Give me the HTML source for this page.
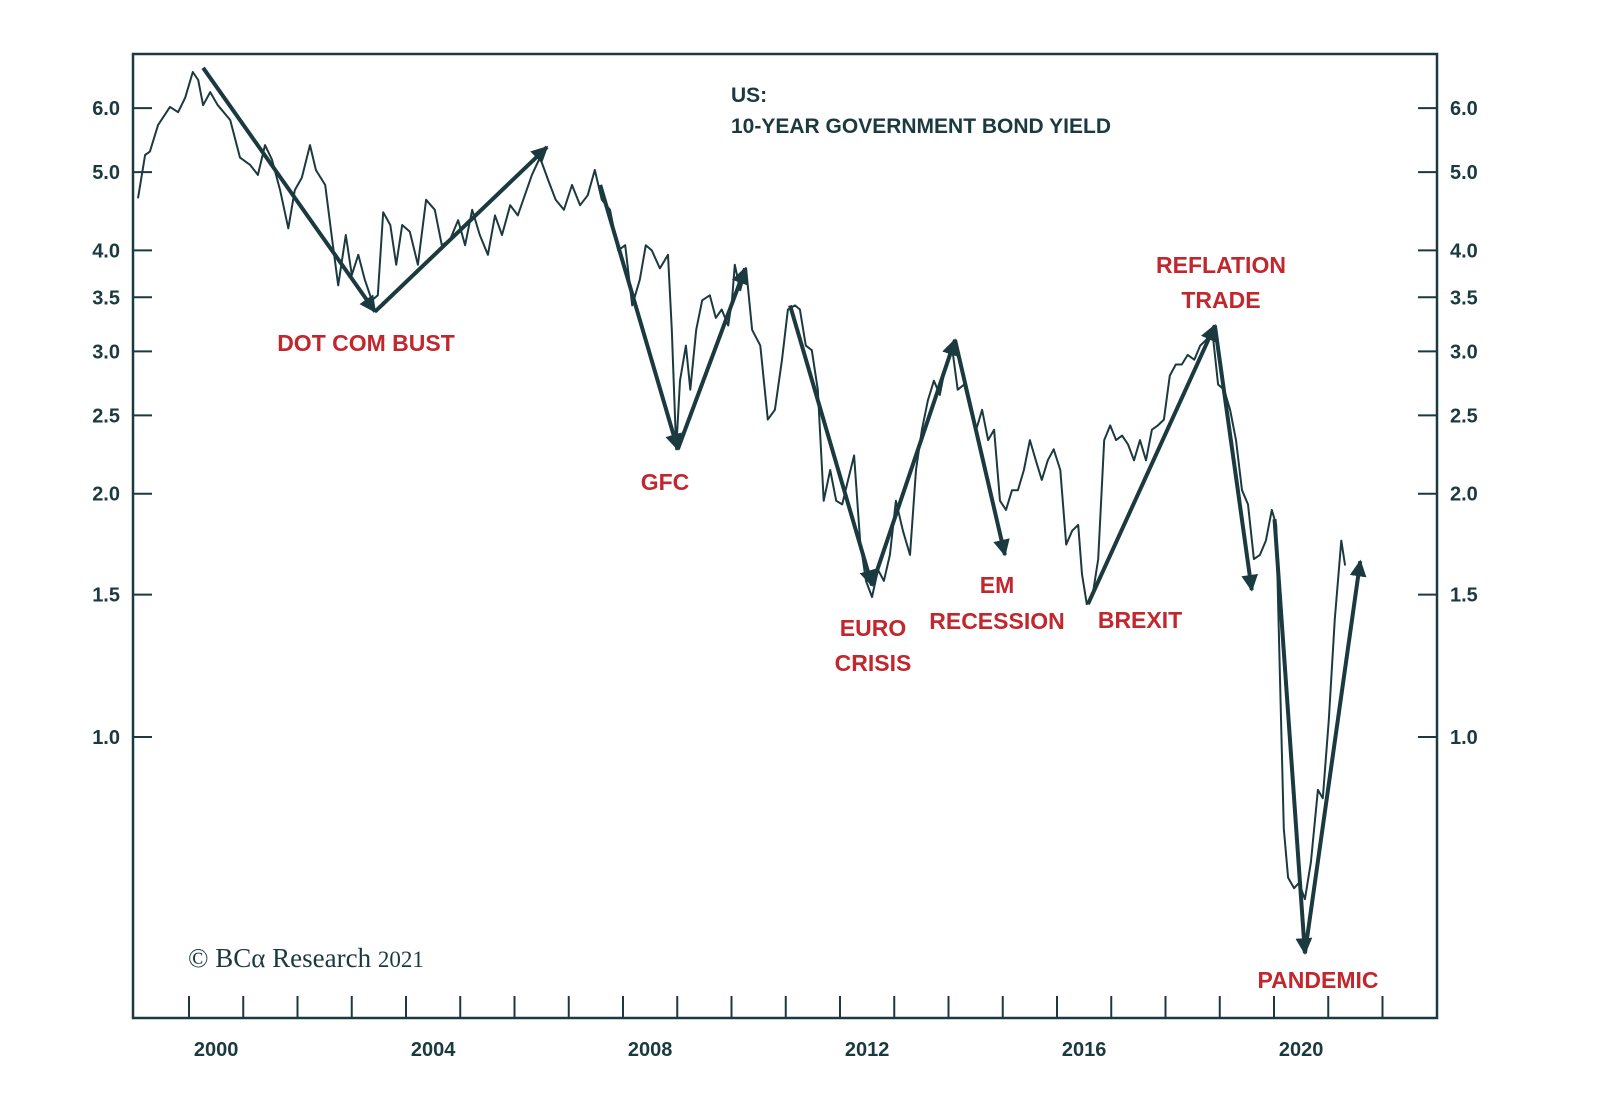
<!DOCTYPE html>
<html><head><meta charset="utf-8">
<style>
html,body{margin:0;padding:0;background:#fff;}
svg{display:block;}
text{font-family:"Liberation Sans",sans-serif;}
</style></head>
<body>
<svg id="chart" width="1600" height="1105" viewBox="0 0 1600 1105">
<defs>
<marker id="ah" viewBox="0 0 10 10" refX="9" refY="5" markerWidth="4.2" markerHeight="4.2" orient="auto" markerUnits="strokeWidth">
<path d="M0,0 L10,5 L0,10 z" fill="#1b3a3f"/>
</marker>
</defs>
<rect x="133" y="54" width="1304" height="964" fill="none" stroke="#1b3a3f" stroke-width="2.5"/>
<g id="axes"></g>
<g id="series"></g>
<g id="arrows"></g>
<text x="731" y="102" font-size="21" font-weight="bold" fill="#1b3a3f">US:</text>
<text x="731" y="133" font-size="21" font-weight="bold" fill="#1b3a3f">10-YEAR GOVERNMENT BOND YIELD</text>
<g font-size="23" font-weight="bold" fill="#c1272d" text-anchor="middle">
<text x="366" y="351">DOT COM BUST</text>
<text x="665" y="490">GFC</text>
<text x="873" y="636">EURO</text>
<text x="873" y="671">CRISIS</text>
<text x="997" y="593">EM</text>
<text x="997" y="629">RECESSION</text>
<text x="1140" y="628">BREXIT</text>
<text x="1221" y="273">REFLATION</text>
<text x="1221" y="308">TRADE</text>
<text x="1318" y="988">PANDEMIC</text>
</g>
<text x="188" y="967" font-size="27" fill="#1b3a3f" style="font-family:'Liberation Serif',serif">© BCα Research <tspan font-size="23">2021</tspan></text>
</svg>
<script>
const yTicks = [1.0, 1.5, 2.0, 2.5, 3.0, 3.5, 4.0, 5.0, 6.0];
const xLabels = [2000, 2004, 2008, 2012, 2016, 2020];
const years = [1999.06,1999.19,1999.28,1999.43,1999.65,1999.80,1999.93,2000.07,2000.17,2000.26,2000.39,2000.53,2000.76,2000.94,2001.13,2001.27,2001.40,2001.53,2001.68,2001.83,2001.95,2002.08,2002.23,2002.34,2002.51,2002.64,2002.75,2002.89,2003.00,2003.12,2003.24,2003.37,2003.48,2003.58,2003.71,2003.82,2003.93,2004.07,2004.22,2004.37,2004.53,2004.66,2004.81,2004.96,2005.09,2005.22,2005.36,2005.51,2005.64,2005.77,2005.92,2006.06,2006.19,2006.32,2006.47,2006.62,2006.76,2006.91,2007.06,2007.21,2007.35,2007.48,2007.61,2007.76,2007.91,2008.04,2008.17,2008.31,2008.42,2008.53,2008.68,2008.83,2008.90,2008.98,2009.05,2009.16,2009.24,2009.35,2009.46,2009.60,2009.71,2009.82,2009.94,2010.01,2010.06,2010.16,2010.27,2010.38,2010.53,2010.67,2010.80,2010.93,2011.04,2011.17,2011.26,2011.37,2011.48,2011.59,2011.70,2011.82,2011.93,2012.04,2012.15,2012.26,2012.37,2012.48,2012.59,2012.70,2012.81,2012.92,2013.03,2013.16,2013.29,2013.40,2013.51,2013.62,2013.73,2013.84,2013.95,2014.06,2014.17,2014.29,2014.40,2014.51,2014.62,2014.73,2014.84,2014.95,2015.06,2015.17,2015.28,2015.39,2015.50,2015.61,2015.72,2015.83,2015.94,2016.06,2016.17,2016.28,2016.39,2016.46,2016.55,2016.65,2016.76,2016.87,2016.98,2017.09,2017.20,2017.31,2017.42,2017.53,2017.64,2017.75,2017.86,2017.97,2018.08,2018.19,2018.30,2018.41,2018.53,2018.64,2018.75,2018.86,2018.97,2019.08,2019.19,2019.30,2019.41,2019.52,2019.63,2019.74,2019.85,2019.96,2020.04,2020.11,2020.18,2020.26,2020.37,2020.46,2020.57,2020.68,2020.81,2020.90,2021.01,2021.12,2021.24,2021.31];
const yields = [4.64,5.25,5.30,5.72,6.02,5.93,6.18,6.65,6.50,6.05,6.28,6.05,5.80,5.21,5.10,4.96,5.40,5.18,4.75,4.26,4.75,4.92,5.40,5.03,4.82,4.12,3.62,4.18,3.73,3.95,3.68,3.47,3.52,4.46,4.30,3.84,4.30,4.22,3.84,4.62,4.49,4.06,4.12,4.36,4.06,4.49,4.18,3.95,4.42,4.18,4.55,4.42,4.68,4.96,5.21,4.89,4.62,4.49,4.82,4.55,4.68,5.03,4.62,4.49,4.00,4.06,3.42,3.68,4.06,4.00,3.80,3.95,3.19,2.27,2.76,3.05,2.69,3.19,3.47,3.52,3.30,3.38,3.23,3.47,3.84,3.57,3.80,3.19,3.05,2.47,2.54,2.93,3.38,3.42,3.38,3.05,3.01,2.69,1.96,2.14,1.96,1.94,2.08,2.23,1.75,1.56,1.49,1.61,1.56,1.68,1.96,1.80,1.68,2.14,2.40,2.61,2.76,2.65,2.89,3.05,2.69,2.73,2.54,2.40,2.54,2.33,2.40,1.96,1.91,2.02,2.02,2.14,2.33,2.20,2.08,2.20,2.27,2.14,1.73,1.80,1.83,1.59,1.46,1.49,1.66,2.33,2.43,2.33,2.36,2.30,2.20,2.33,2.20,2.40,2.43,2.47,2.80,2.89,2.89,2.97,2.93,3.05,3.10,3.19,2.73,2.69,2.54,2.33,2.02,1.94,1.66,1.68,1.75,1.91,1.83,1.18,0.77,0.67,0.65,0.66,0.63,0.70,0.86,0.84,1.05,1.40,1.75,1.63];
const arrowStartYears = [2000.26,2003.43,2007.58,2009.01,2011.08,2012.59,2014.12,2016.57,2018.91,2020.01,2020.57];
const arrowStartValues = [6.73,3.36,4.82,2.27,3.42,1.54,3.10,1.46,3.23,1.86,0.54];
const arrowEndYears = [2003.43,2006.60,2009.01,2010.25,2012.59,2014.12,2015.04,2018.91,2019.59,2020.57,2021.59];
const arrowEndValues = [3.36,5.37,2.27,3.80,1.54,3.10,1.68,3.23,1.52,0.54,1.65];

const NS = "http://www.w3.org/2000/svg";
const C = "#1b3a3f";
function xs(t){ return 189 + (t - 2000) * 54.25; }
function ys(v){ return 737 - 351 * Math.log(v); }
function mk(tag, attrs, parent){ const e = document.createElementNS(NS, tag); for (const k in attrs) e.setAttribute(k, attrs[k]); parent.appendChild(e); return e; }

const axes = document.getElementById('axes');
yTicks.forEach(v => {
  const y = ys(v);
  const l = mk('line', {x1:133, x2:152, y1:y, y2:y, stroke:C, 'stroke-width':2}, axes);
  
  
  const r = mk('line', {x1:1418, x2:1437, y1:y, y2:y, stroke:C, 'stroke-width':2}, axes);
  
  
  const tl = mk('text', {x:120, y:y+7, 'text-anchor':'end', 'font-size':20, 'font-weight':'bold', fill:C}, axes);
  tl.textContent = v.toFixed(1);
  
  
  const tr = mk('text', {x:1450, y:y+7, 'text-anchor':'start', 'font-size':20, 'font-weight':'bold', fill:C}, axes);
  tr.textContent = v.toFixed(1);
  
  
});
for (let yr = 2000; yr <= 2022; yr++) {
  const x = xs(yr);
  const t = mk('line', {x1:x, x2:x, y1:996, y2:1018, stroke:C, 'stroke-width':2}, axes);
  
  
}
xLabels.forEach(yr => {
  const t = mk('text', {x:xs(yr + 0.5), y:1056, 'text-anchor':'middle', 'font-size':20, 'font-weight':'bold', fill:C}, axes);
  t.textContent = yr;
  
  
});

const series = document.getElementById('series');
const pts = years.map((t, i) => xs(t).toFixed(1) + ',' + ys(yields[i]).toFixed(1)).join(' ');
const line = mk('polyline', {points:pts, fill:'none', stroke:C, 'stroke-width':2, 'stroke-linejoin':'round'}, series);



const arrows = document.getElementById('arrows');
arrowStartYears.forEach((t, i) => {
  const a = mk('line', {x1:xs(t), y1:ys(arrowStartValues[i]), x2:xs(arrowEndYears[i]), y2:ys(arrowEndValues[i]), stroke:C, 'stroke-width':4, 'marker-end':'url(#ah)'}, arrows);
  
  
});
</script>
</body></html>
